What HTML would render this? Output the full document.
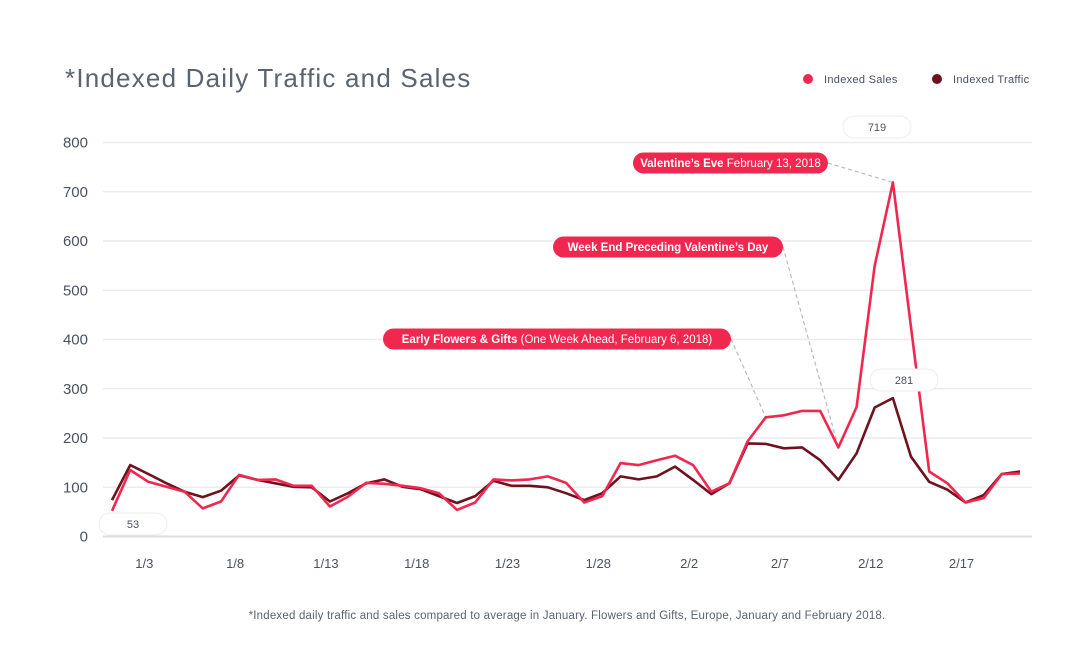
<!DOCTYPE html>
<html><head><meta charset="utf-8">
<style>
body{margin:0;background:#fff;font-family:"Liberation Sans",sans-serif;}
#wrap{position:relative;width:1080px;height:651px;overflow:hidden;background:#fff;}
svg text{font-family:"Liberation Sans",sans-serif;}
</style></head>
<body>
<div id="wrap">
<svg id="chart" width="1080" height="651">
  <text x="65" y="87" font-size="26" letter-spacing="1.2" fill="#5a6370">*Indexed Daily Traffic and Sales</text>
  <g>
    <circle cx="808" cy="79" r="5" fill="#f0284f"/>
    <text x="824" y="83" font-size="11" letter-spacing="0.3" fill="#4a5260">Indexed Sales</text>
    <circle cx="937" cy="79" r="5" fill="#6e1220"/>
    <text x="953" y="83" font-size="11" letter-spacing="0.3" fill="#4a5260">Indexed Traffic</text>
  </g>
  <g id="grid"></g>
  <g id="xaxis"></g>
  <g id="annots"></g>
  <g id="lines"></g>
  <g id="callouts"></g>
  <text x="567" y="619" font-size="11.5" letter-spacing="0.2" fill="#5a6370" text-anchor="middle">*Indexed daily traffic and sales compared to average in January. Flowers and Gifts, Europe, January and February 2018.</text>
</svg>
</div>
<script>
const dayLabels = ["1/3","1/8","1/13","1/18","1/23","1/28","2/2","2/7","2/12","2/17"];
const dayLabelIndex = [2,7,12,17,22,27,32,37,42,47];
const yTicks = [0,100,200,300,400,500,600,700,800];
const sales = [52,135,111,101,91,57,71,125,115,116,103,103,61,81,109,107,103,98,88,54,69,116,114,116,122,109,69,82,149,145,155,164,145,91,108,193,242,246,255,255,181,263,550,719,425,132,108,69,78,127,128];
const traffic = [74,145,127,108,91,80,93,124,115,108,101,100,71,88,108,116,101,96,82,68,82,113,103,103,100,88,74,88,122,116,122,142,115,86,108,189,188,179,181,155,115,169,262,281,162,111,95,69,84,127,132];
const annotations = [
  {bold:"Valentine\u2019s Eve", rest:" February 13, 2018", idx:43, x1:633, x2:828, y:163},
  {bold:"Week End Preceding Valentine\u2019s Day", rest:"", idx:40, x1:553, x2:783, y:247},
  {bold:"Early Flowers & Gifts", rest:" (One Week Ahead, February 6, 2018)", idx:36, x1:383, x2:731, y:339}
];
const callouts = [
  {label:"53", idx:0, series:"sales", cx:133, cy:524},
  {label:"719", idx:43, series:"sales", cx:877, cy:127},
  {label:"281", idx:43, series:"traffic", cx:904, cy:380}
];

const NS="http://www.w3.org/2000/svg";
const X0=112, DX=18.16, Y0=536.5, KY=0.4925;
const xs=i=>X0+DX*i, ys=v=>Y0-v*KY;
function mk(tag,attrs,parent){const e=document.createElementNS(NS,tag);for(const k in attrs)e.setAttribute(k,attrs[k]);parent.appendChild(e);return e;}

const grid=document.getElementById('grid');
yTicks.forEach(t=>{
  const l=mk('line',{x1:103,x2:1032,y1:ys(t),y2:ys(t),stroke:t===0?'#dcdcdc':'#ececec','stroke-width':t===0?2:1.5},grid);
  
  
  const tx=mk('text',{x:88,y:ys(t)+5,'font-size':15,fill:'#4a5260','text-anchor':'end'},grid);
  tx.textContent=t;
  
  
});
const xa=document.getElementById('xaxis');
dayLabels.forEach((d,k)=>{
  const tx=mk('text',{x:xs(dayLabelIndex[k])-4,y:568,'font-size':13,fill:'#4a5260','text-anchor':'middle'},xa);
  tx.textContent=d;
  
  
});
const an=document.getElementById('annots');
annotations.forEach((a,k)=>{
  const ln=mk('line',{x1:a.x2,y1:a.y,x2:xs(a.idx),y2:ys(sales[a.idx]),stroke:'#bbb','stroke-width':1.2,'stroke-dasharray':'4,3'},an);
  
  
  const r=mk('rect',{x:a.x1,y:a.y-10.5,width:a.x2-a.x1,height:21,rx:10.5,fill:'#f0284f'},an);
  
  
  const tx=mk('text',{x:(a.x1+a.x2)/2,y:a.y+4,'font-size':11.5,fill:'#fff','text-anchor':'middle'},an);
  
  
  const b=mk('tspan',{'font-weight':'bold'},tx);b.textContent=a.bold;
  if(a.rest){const s=mk('tspan',{},tx);s.textContent=a.rest;}
});
const lg=document.getElementById('lines');
function path(vals,color,name){
  const d=vals.map((v,i)=>(i?'L':'M')+xs(i).toFixed(1)+','+ys(v).toFixed(1)).join(' ');
  const p=mk('path',{d:d,fill:'none',stroke:color,'stroke-width':2.6,'stroke-linejoin':'round'},lg);
  
  
}
path(traffic,'#6e1220','traffic-line');
path(sales,'#f0284f','sales-line');
const cg=document.getElementById('callouts');
callouts.forEach(c=>{
  const r=mk('rect',{x:c.cx-34,y:c.cy-11,width:68,height:22,rx:11,fill:'#fff',stroke:'#eee','stroke-width':1},cg);
  
  
  const tx=mk('text',{x:c.cx,y:c.cy+4,'font-size':11,fill:'#4a5260','text-anchor':'middle'},cg);
  tx.textContent=c.label;
  
  
});
</script>
</body></html>
